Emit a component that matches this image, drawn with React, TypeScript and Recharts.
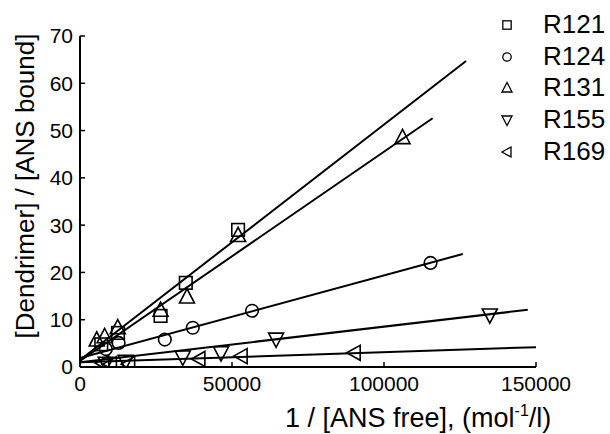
import React from 'react';
import { ComposedChart, XAxis, YAxis, Scatter, Line } from 'recharts';

// measured points: [1/[ANS free], [Dendrimer]/[ANS bound]]
const r121Points = [[7000, 4.8], [12500, 7.2], [26500, 10.8], [34800, 17.8], [52000, 29]];
const r124Points = [[8500, 3.8], [12700, 5.1], [27900, 5.8], [37100, 8.3], [56600, 11.9], [115300, 22]];
const r131Points = [[5500, 5.7], [8100, 6.4], [12400, 8.3], [26500, 12], [35200, 14.8], [52000, 27.8], [106100, 48.5]];
const r155Points = [[8500, 0.8], [15000, 1.2], [33800, 2.1], [46400, 3.0], [64500, 5.9], [134800, 11]];
const r169Points = [[7500, 0.8], [10000, 0.6], [16000, 0.6], [39100, 1.7], [53000, 2.3], [90200, 3.0]];

// regression lines (start / end)
const r121Fit = [[0, 1.5], [127000, 64.7]];
const r124Fit = [[0, 1.9], [125900, 23.9]];
const r131Fit = [[0, 1.3], [116000, 52.6]];
const r155Fit = [[0, 1.0], [147300, 12.1]];
const r169Fit = [[0, 1.0], [150000, 4.2]];

const xTicks = [0, 50000, 100000, 150000];
const yTicks = [0, 10, 20, 30, 40, 50, 60, 70];

type Kind = 'square' | 'circle' | 'up' | 'down' | 'left';

const seriesList: { name: string; kind: Kind; points: number[][]; fit: number[][] }[] = [
  { name: 'R121', kind: 'square', points: r121Points, fit: r121Fit },
  { name: 'R124', kind: 'circle', points: r124Points, fit: r124Fit },
  { name: 'R131', kind: 'up', points: r131Points, fit: r131Fit },
  { name: 'R155', kind: 'down', points: r155Points, fit: r155Fit },
  { name: 'R169', kind: 'left', points: r169Points, fit: r169Fit },
];

const toRows = (pts: number[][]) => pts.map(([x, y]) => ({ x, y }));

const Marker = ({ cx, cy, kind, size, sw }: { cx: number; cy: number; kind: Kind; size: number; sw: number }) => {
  const s = size;
  const common = { fill: 'none', stroke: '#000', strokeWidth: sw };
  if (kind === 'square') return <rect x={cx - s * 0.42} y={cy - s * 0.42} width={s * 0.84} height={s * 0.84} {...common} />;
  if (kind === 'circle') return <circle cx={cx} cy={cy} r={s * 0.42} {...common} />;
  if (kind === 'up')
    return <polygon points={`${cx},${cy - s * 0.55} ${cx - s / 2},${cy + s * 0.4} ${cx + s / 2},${cy + s * 0.4}`} {...common} />;
  if (kind === 'down')
    return <polygon points={`${cx},${cy + s * 0.55} ${cx - s / 2},${cy - s * 0.4} ${cx + s / 2},${cy - s * 0.4}`} {...common} />;
  return <polygon points={`${cx - s * 0.5},${cy} ${cx + s * 0.4},${cy - s / 2} ${cx + s * 0.4},${cy + s / 2}`} {...common} />;
};

const font = 'Arial, "Liberation Sans", sans-serif';

const LegendBox = () => (
  <div style={{ position: 'absolute', left: 497, top: 9, fontFamily: font, fontSize: 26, lineHeight: '31.7px' }}>
    {seriesList.map((s) => (
      <div key={s.name} style={{ display: 'flex', alignItems: 'center', height: 31.7 }}>
        <svg width={20} height={20} style={{ marginRight: 26 }}>
          <Marker cx={10} cy={10} kind={s.kind} size={10} sw={1.3} />
        </svg>
        <span>{s.name}</span>
      </div>
    ))}
  </div>
);

export default function App() {
  return (
    <div style={{ position: 'absolute', left: 0, top: 0, width: 610, height: 434, background: '#fff' }}>
      <ComposedChart width={610} height={434} margin={{ top: 36, right: 74, left: 79, bottom: 66 }}>
        <XAxis
          type="number"
          dataKey="x"
          domain={[0, 150000]}
          ticks={xTicks}
          allowDataOverflow
          height={1}
          axisLine={{ stroke: '#000', strokeWidth: 2 }}
          tickLine={{ stroke: '#000', strokeWidth: 1.5 }}
          tickSize={-5}
          tickMargin={14}
          tick={{ fill: '#000', fontSize: 21, fontFamily: font }}
        />
        <YAxis
          type="number"
          dataKey="y"
          domain={[0, 70]}
          ticks={yTicks}
          allowDataOverflow
          width={1}
          axisLine={{ stroke: '#000', strokeWidth: 2 }}
          tickLine={{ stroke: '#000', strokeWidth: 1.5 }}
          tickSize={-5}
          tickMargin={12}
          tick={{ fill: '#000', fontSize: 21, fontFamily: font }}
        />
        {seriesList.map((s) => (
          <Line
            key={`fit-${s.name}`}
            data={toRows(s.fit)}
            dataKey="y"
            type="linear"
            stroke="#000"
            strokeWidth={2}
            dot={false}
            activeDot={false}
            legendType="none"
            isAnimationActive={false}
          />
        ))}
        {seriesList.map((s) => (
          <Scatter
            key={`pts-${s.name}`}
            name={s.name}
            data={toRows(s.points)}
            isAnimationActive={false}
            shape={(p: any) => <Marker cx={p.cx} cy={p.cy} kind={s.kind} size={15} sw={1.6} />}
          />
        ))}
      </ComposedChart>
      <LegendBox />
      <svg width={610} height={434} style={{ position: 'absolute', left: 0, top: 0, pointerEvents: 'none' }}>
        <text x={285} y={427} textAnchor="start" fontFamily={font} fontSize={27} fill="#000">
          1 / [ANS free], (mol
          <tspan fontSize={16} dy={-11}>-1</tspan>
          <tspan dy={11}>/l)</tspan>
        </text>
        <text transform="translate(34,186) rotate(-90)" textAnchor="middle" fontFamily={font} fontSize={26} fill="#000">
          [Dendrimer] / [ANS bound]
        </text>
      </svg>
    </div>
  );
}
